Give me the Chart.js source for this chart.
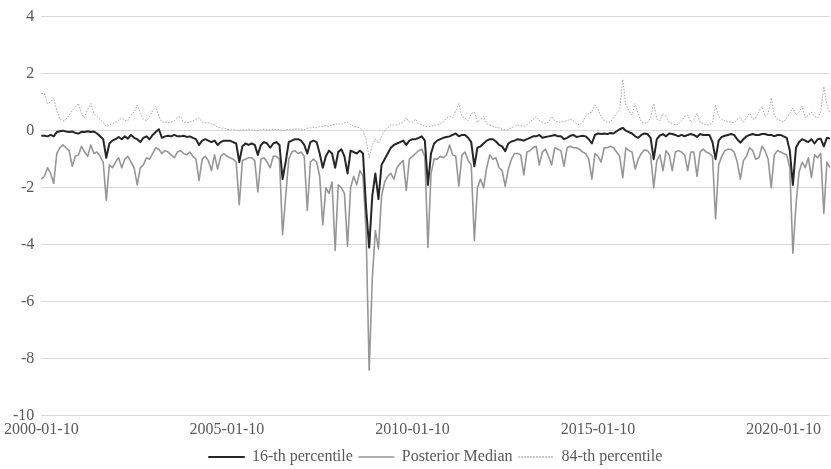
<!DOCTYPE html>
<html>
<head>
<meta charset="utf-8">
<title>Percentiles</title>
<script src="https://cdn.jsdelivr.net/npm/chart.js@4.4.1/dist/chart.umd.min.js"></script>
<style>
    body { margin: 0; background: #fff; }
    #wrap { width: 831px; height: 469px; }
</style>
</head>
<body>
<div id="wrap"><canvas id="lineChart" width="831" height="469"></canvas></div>

<script>
    // monthly readings, 2000-01 .. 2021-04 (one row per year)
    var startYear = 2000;
    var tickLabels = ["2000-01-10", "2005-01-10", "2010-01-10", "2015-01-10", "2020-01-10"];

    var p16 = [
        -0.18,-0.18,-0.2,-0.15,-0.2,-0.05,-0.02,0.0,-0.03,-0.05,-0.03,-0.08,
        -0.1,-0.04,-0.05,-0.02,-0.05,-0.03,-0.1,-0.2,-0.3,-0.95,-0.45,-0.35,
        -0.3,-0.22,-0.3,-0.2,-0.28,-0.15,-0.25,-0.3,-0.4,-0.25,-0.2,-0.3,
        -0.15,-0.05,0.05,-0.25,-0.2,-0.18,-0.2,-0.15,-0.2,-0.2,-0.18,-0.22,
        -0.2,-0.25,-0.3,-0.5,-0.35,-0.3,-0.35,-0.4,-0.35,-0.5,-0.4,-0.35,
        -0.35,-0.35,-0.4,-0.45,-1.1,-0.55,-0.45,-0.5,-0.45,-0.5,-0.85,-0.5,
        -0.4,-0.45,-0.6,-0.45,-0.4,-0.5,-1.7,-1.1,-0.4,-0.35,-0.3,-0.3,
        -0.35,-0.5,-0.8,-0.4,-0.35,-0.4,-0.8,-1.3,-0.9,-0.7,-0.8,-1.3,
        -0.75,-0.65,-0.9,-1.5,-0.7,-0.75,-0.8,-0.7,-0.8,-2.7,-4.1,-2.3,
        -1.5,-2.4,-1.2,-1.0,-0.8,-0.6,-0.5,-0.45,-0.4,-0.35,-0.5,-0.35,
        -0.3,-0.3,-0.25,-0.2,-0.35,-1.9,-0.8,-0.45,-0.35,-0.3,-0.25,-0.22,
        -0.2,-0.15,-0.1,-0.2,-0.15,-0.15,-0.25,-0.4,-1.25,-0.6,-0.55,-0.45,
        -0.35,-0.3,-0.3,-0.38,-0.5,-0.55,-0.72,-0.45,-0.38,-0.35,-0.3,-0.32,
        -0.35,-0.3,-0.25,-0.2,-0.2,-0.15,-0.25,-0.22,-0.2,-0.18,-0.15,-0.2,
        -0.2,-0.3,-0.25,-0.18,-0.15,-0.22,-0.2,-0.18,-0.2,-0.3,-0.45,-0.15,
        -0.1,-0.12,-0.1,-0.12,-0.08,-0.1,-0.02,0.05,0.1,0.0,-0.05,-0.1,
        -0.2,-0.25,-0.15,-0.1,-0.12,-0.25,-1.0,-0.3,-0.17,-0.12,-0.2,-0.1,
        -0.12,-0.15,-0.2,-0.15,-0.2,-0.15,-0.12,-0.15,-0.22,-0.12,-0.15,-0.15,
        -0.15,-0.4,-1.0,-0.35,-0.22,-0.18,-0.15,-0.12,-0.15,-0.3,-0.42,-0.3,
        -0.2,-0.15,-0.12,-0.15,-0.15,-0.12,-0.12,-0.15,-0.15,-0.2,-0.15,-0.15,
        -0.2,-0.25,-0.7,-1.9,-0.6,-0.4,-0.3,-0.35,-0.4,-0.3,-0.45,-0.3,
        -0.28,-0.55,-0.25,-0.28
    ];

    var median = [
        -1.7,-1.6,-1.3,-1.5,-1.85,-0.8,-0.6,-0.5,-0.6,-0.7,-1.25,-0.9,
        -0.85,-0.55,-0.75,-0.9,-0.5,-0.8,-0.75,-0.9,-1.1,-2.45,-1.2,-1.3,
        -1.1,-0.95,-1.3,-1.0,-0.9,-1.1,-1.3,-1.9,-1.3,-1.2,-0.95,-1.0,
        -0.8,-0.6,-0.65,-0.8,-0.7,-0.75,-0.85,-0.95,-0.75,-0.7,-0.8,-0.85,
        -0.75,-0.9,-1.0,-1.75,-1.0,-0.9,-1.05,-1.4,-0.85,-1.35,-0.9,-0.8,
        -0.9,-0.95,-1.0,-1.1,-2.6,-1.05,-1.0,-0.95,-0.95,-1.05,-2.15,-1.0,
        -0.95,-1.1,-1.3,-0.9,-0.9,-1.0,-3.65,-2.3,-1.0,-0.75,-0.7,-0.8,
        -0.75,-0.9,-2.8,-1.1,-1.0,-1.1,-1.6,-3.3,-2.0,-2.2,-1.8,-4.2,
        -1.9,-2.0,-2.2,-4.05,-2.0,-1.6,-1.9,-1.4,-1.6,-3.5,-8.4,-5.2,
        -3.5,-4.15,-2.3,-1.8,-1.6,-1.5,-1.7,-1.3,-1.15,-1.05,-2.1,-1.0,
        -0.9,-0.8,-0.7,-0.65,-0.9,-4.1,-1.5,-1.0,-1.0,-0.9,-0.95,-0.85,
        -0.5,-0.85,-0.9,-1.95,-0.85,-0.75,-1.05,-1.2,-3.85,-2.0,-1.7,-2.0,
        -1.3,-0.85,-1.0,-0.95,-1.3,-1.4,-1.95,-1.35,-1.0,-0.8,-0.8,-0.85,
        -1.55,-0.75,-0.7,-0.6,-0.55,-1.2,-0.75,-0.65,-0.9,-1.2,-0.6,-0.65,
        -0.7,-1.25,-0.6,-0.55,-0.6,-0.6,-0.65,-0.75,-0.8,-1.0,-1.7,-0.8,
        -0.9,-1.1,-0.6,-0.6,-0.55,-0.6,-0.75,-0.9,-1.65,-0.6,-0.7,-0.75,
        -1.35,-1.0,-0.8,-0.68,-0.7,-0.85,-2.0,-1.05,-0.85,-1.4,-0.7,-0.85,
        -1.4,-0.75,-0.7,-0.75,-0.85,-1.4,-0.75,-0.75,-1.6,-0.75,-0.65,-0.75,
        -0.8,-0.9,-3.1,-1.2,-0.9,-0.7,-0.65,-0.65,-0.75,-1.1,-1.7,-1.05,
        -0.9,-0.6,-0.7,-1.0,-0.95,-0.55,-0.7,-1.0,-2.0,-0.85,-0.7,-0.75,
        -0.8,-0.85,-1.3,-4.3,-2.6,-1.45,-1.1,-1.3,-0.95,-1.65,-0.85,-0.95,
        -0.8,-2.9,-1.1,-1.3
    ];

    var p84 = [
        1.3,1.3,0.95,1.0,1.15,0.7,0.4,0.35,0.4,0.55,0.7,0.85,
        0.95,0.6,0.45,0.75,0.95,0.6,0.5,0.4,0.3,0.15,0.2,0.25,
        0.3,0.35,0.45,0.35,0.35,0.55,0.65,0.9,0.6,0.4,0.35,0.5,
        0.7,0.85,0.5,0.3,0.3,0.28,0.3,0.35,0.45,0.5,0.3,0.28,
        0.3,0.35,0.4,0.45,0.3,0.28,0.27,0.25,0.2,0.12,0.1,0.08,
        0.05,0.03,0.03,0.02,0.0,0.03,0.02,0.05,0.03,0.02,0.0,0.03,
        0.05,0.03,0.02,0.05,0.03,0.04,0.0,0.02,0.05,0.04,0.06,0.05,
        0.05,0.03,0.08,0.1,0.12,0.1,0.14,0.15,0.18,0.15,0.2,0.22,
        0.25,0.22,0.28,0.3,0.22,0.15,0.12,0.1,0.0,-0.3,-0.95,-0.5,
        -0.3,-0.45,-0.2,0.0,0.1,0.2,0.2,0.2,0.25,0.3,0.45,0.3,
        0.3,0.4,0.25,0.2,0.15,0.15,0.15,0.2,0.2,0.25,0.3,0.45,
        0.5,0.45,0.7,0.95,0.5,0.45,0.35,0.6,0.65,0.3,0.4,0.5,
        0.25,0.2,0.15,0.12,0.1,0.05,0.03,0.05,0.1,0.15,0.2,0.18,
        0.15,0.2,0.3,0.4,0.5,0.35,0.3,0.25,0.3,0.5,0.35,0.3,
        0.3,0.32,0.35,0.4,0.35,0.25,0.2,0.3,0.5,0.6,0.65,0.9,
        0.75,0.5,0.35,0.3,0.3,0.45,0.6,0.75,1.8,0.9,0.7,0.55,
        0.95,0.6,0.3,0.27,0.27,0.45,0.95,0.4,0.35,0.6,0.5,0.3,
        0.25,0.2,0.22,0.35,0.5,0.55,0.3,0.4,0.6,0.3,0.25,0.2,
        0.2,0.3,0.9,0.5,0.4,0.35,0.3,0.3,0.28,0.4,0.45,0.3,
        0.45,0.62,0.4,0.45,0.68,0.85,0.5,0.6,1.15,0.55,0.4,0.35,
        0.3,0.45,0.6,0.8,0.55,0.65,0.85,0.45,0.55,0.65,0.5,0.45,
        0.65,1.55,0.9,0.6
    ];

    // category labels: one per month
    var labels = [];
    for (var i = 0; i < p16.length; i++) {
        var yr = startYear + Math.floor(i / 12), mo = i % 12 + 1;
        labels.push(yr + "-" + (mo < 10 ? "0" + mo : mo) + "-10");
    }

    var serif = "'Liberation Serif', 'Times New Roman', serif";
    var textColor = "#595959";

    var lineData = {
        labels: labels,
        datasets: [
            {
                label: "16-th percentile",
                data: p16,
                borderColor: "#262626",
                backgroundColor: "#262626",
                borderWidth: 2
            }, {
                label: "Posterior Median",
                data: median,
                borderColor: "#969696",
                backgroundColor: "#969696",
                borderWidth: 1.6
            }, {
                label: "84-th percentile",
                data: p84,
                borderColor: "#a6a6a6",
                backgroundColor: "#a6a6a6",
                borderWidth: 1,
                borderDash: [1.5, 1.5]
            }
        ]
    };

    var lineOptions = {
        responsive: false,
        animation: false,
        devicePixelRatio: 1,
        layout: { padding: { top: 2, right: 1, left: 3, bottom: -6 } },
        elements: {
            point: { radius: 0, hoverRadius: 0 },
            line: { tension: 0, borderJoinStyle: "round", fill: false }
        },
        scales: {
            x: {
                grid: { display: false, drawTicks: false },
                border: { display: false },
                ticks: {
                    autoSkip: false,
                    maxRotation: 0,
                    padding: 4,
                    color: textColor,
                    font: { family: serif, size: 16 },
                    callback: function (val, idx) {
                        var lab = labels[idx];
                        return tickLabels.indexOf(lab) >= 0 ? lab : null;
                    }
                }
            },
            y: {
                min: -10,
                max: 4,
                grid: { color: "#d9d9d9", lineWidth: 1, drawTicks: false },
                border: { display: false },
                ticks: {
                    stepSize: 2,
                    padding: 7,
                    color: textColor,
                    font: { family: serif, size: 16 }
                }
            }
        },
        plugins: {
            tooltip: { enabled: false },
            legend: {
                position: "bottom",
                fullSize: false,
                labels: {
                    boxWidth: 35,
                    boxHeight: 0,
                    padding: 6,
                    color: textColor,
                    font: { family: serif, size: 16 }
                }
            }
        }
    };

    var ctx = document.getElementById("lineChart").getContext("2d");
    new Chart(ctx, {type: 'line', data: lineData, options: lineOptions});
</script>
</body>
</html>
